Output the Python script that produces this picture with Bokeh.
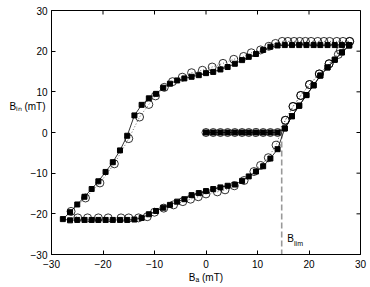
import math
from bokeh.plotting import figure
from bokeh.models import Range1d, Label, FixedTicker
from bokeh.embed import file_html
from bokeh.resources import INLINE

# ---------------- data ----------------
# solid squares: virgin curve, descending branch, ascending branch
sq_virgin_x = [0.0, 1.4, 2.8, 4.2, 5.6, 7.0, 8.3, 9.7, 11.1, 12.5, 13.9,
               15.3, 16.7, 18.1, 19.5, 20.9, 22.2, 23.6, 25.0, 26.4, 27.8]
sq_virgin_y = [0.0, 0.0, 0.0, 0.0, 0.0, 0.0, 0.0, 0.0, 0.0, 0.0, 0.0,
               1.0, 4.0, 6.6, 9.2, 11.6, 14.0, 16.0, 17.9, 19.7, 21.4]

sq_down_x = [27.8, 26.4, 25.0, 23.6, 22.2, 20.9, 19.5, 18.1, 16.7, 15.3,
             13.9, 12.5, 11.1, 9.7, 8.3, 7.0, 5.6, 4.2, 2.8, 1.4,
             0.0, -1.4, -2.8, -4.2, -5.6, -7.0, -8.3, -9.7, -11.1, -12.5,
             -13.9, -15.3, -16.7, -18.1, -19.5, -20.9, -22.2, -23.6, -25.0, -26.4,
             -27.8]
sq_down_y = [21.5, 21.5, 21.5, 21.5, 21.5, 21.5, 21.5, 21.5, 21.5, 21.5,
             21.4, 21.1, 20.3, 19.3, 18.6, 17.8, 16.9, 16.1, 15.5, 14.9,
             14.6, 14.1, 13.7, 13.3, 12.8, 12.0, 11.0, 9.5, 8.4, 6.8,
             4.2, -0.8, -4.4, -7.3, -9.7, -12.0, -13.9, -15.8, -17.7, -19.6,
             -21.3]

sq_up_x = [-26.4, -25.0, -23.6, -22.2, -20.9, -19.5, -18.1, -16.7, -15.3, -13.9,
           -12.5, -11.1, -9.7, -8.3, -7.0, -5.6, -4.2, -2.8, -1.4, 0.0,
           1.4, 2.8, 4.2, 5.6, 7.0, 8.3, 9.7, 11.1, 12.5, 13.9,
           15.3, 16.7, 18.1, 19.5, 20.9, 22.2, 23.6, 25.0, 26.4, 27.8]
sq_up_y = [-21.6, -21.5, -21.5, -21.5, -21.5, -21.5, -21.5, -21.5, -21.5, -21.4,
           -21.0, -20.1, -19.3, -18.5, -17.8, -17.0, -16.4, -15.4, -14.9, -14.4,
           -13.9, -13.5, -13.1, -12.8, -11.9, -10.8, -9.6, -8.3, -6.4, -4.1,
           1.0, 4.0, 6.6, 9.2, 11.6, 14.0, 16.0, 17.9, 19.7, 21.4]

# open circles: virgin curve, descending branch, ascending branch
ci_virgin_x = [0.0, 1.4, 2.8, 4.2, 5.6, 7.0, 8.3, 9.7, 11.1, 12.5, 13.9,
               15.4, 16.9, 18.4, 20.1, 22.0, 23.9, 25.7, 27.9]
ci_virgin_y = [0.0, 0.0, 0.0, 0.0, 0.0, 0.0, 0.0, 0.0, 0.0, 0.0, 0.0,
               3.0, 6.4, 9.1, 11.8, 14.4, 16.9, 19.2, 22.4]

ci_down_x = [26.6, 25.4, 24.0, 22.9, 21.7, 20.4, 19.3, 18.2, 17.1, 15.9, 14.8,
             13.5, 12.2, 10.6, 8.8, 7.3, 5.4, 3.3, 1.2, -0.7, -2.8,
             -4.6, -6.5, -8.1, -9.8, -11.1, -12.9, -15.0, -17.8, -20.6, -23.4,
             -26.2]
ci_down_y = [22.4, 22.4, 22.4, 22.4, 22.4, 22.4, 22.4, 22.4, 22.4, 22.4, 22.4,
             21.9, 21.2, 20.3, 19.6, 18.7, 18.0, 17.0, 16.1, 15.3, 14.7,
             13.6, 12.5, 11.1, 9.0, 6.9, 3.8, -1.5, -7.7, -12.4, -16.1,
             -19.4]

ci_up_x = [-24.9, -23.0, -20.9, -19.0, -16.5, -15.0, -13.1, -11.4, -10.0, -8.2,
           -6.3, -4.5, -3.0, -1.5, 0.0, 2.2, 3.7, 5.5, 7.4, 9.3,
           10.6, 12.1, 13.6, 15.4, 16.9, 18.4, 20.1, 22.0, 23.9, 26.1,
           27.9]
ci_up_y = [-21.0, -21.0, -21.0, -21.0, -21.0, -21.0, -21.0, -20.7, -19.6, -18.6,
           -17.8, -17.0, -16.4, -15.8, -15.1, -14.6, -14.1, -13.1, -11.8, -9.6,
           -8.1, -6.2, -3.1, 3.0, 6.4, 9.1, 11.8, 14.4, 16.9, 20.2,
           22.4]

b_lim = 14.7
b_lim_y = [0.0, -30.0]

x_lim = [-30, 30]
y_lim = [-30, 30]
x_ticks = [-30, -20, -10, 0, 10, 20, 30]
x_tick_labels = ["\u221230", "\u221220", "\u221210", "0", "10", "20", "30"]
y_ticks = [-30, -20, -10, 0, 10, 20, 30]
y_tick_labels = ["\u221230", "\u221220", "\u221210", "0", "10", "20", "30"]

x_title = "B\u2090 (mT)"
y_title = "B\u1d62\u2099 (mT)"

FONT = "Liberation Sans"

# ---------------- figure ----------------
p = figure(width=370, height=287,
           x_range=Range1d(*x_lim), y_range=Range1d(*y_lim),
           output_backend="svg", toolbar_location=None,
           min_border_left=51, min_border_right=10,
           min_border_top=10, min_border_bottom=33)
p.background_fill_color = "white"
p.border_fill_color = "white"
p.outline_line_color = "black"
p.outline_line_width = 1
p.xgrid.visible = False
p.ygrid.visible = False


def style_axis(ax, ticks, labels):
    ax.ticker = FixedTicker(ticks=ticks)
    ax.major_label_overrides = {t: l for t, l in zip(ticks, labels)}
    ax.major_tick_in = 4
    ax.major_tick_out = 0
    ax.minor_tick_line_color = None
    ax.major_tick_line_color = "black"
    ax.axis_line_color = "black"
    ax.major_label_text_font = FONT
    ax.major_label_text_color = "black"
    ax.major_label_text_font_size = "10px"
    ax.axis_label_text_font = FONT
    ax.axis_label_text_font_size = "10px"
    ax.axis_label_text_font_style = "normal"
    ax.axis_label_text_color = "black"


xa = p.xaxis[0]
style_axis(xa, x_ticks, x_tick_labels)
xa.major_label_standoff = 5
xa.axis_label = x_title
xa.axis_label_standoff = 1

ya = p.yaxis[0]
style_axis(ya, y_ticks, y_tick_labels)
ya.major_label_standoff = 4
# horizontal title, drawn over the tick-label column, a little above centre
ya.axis_label = y_title + "\n\u00a0" * 4
ya.axis_label_orientation = "horizontal"
ya.axis_label_standoff_mode = "axis"
ya.axis_label_standoff = 6

# inward ticks on the top and right edges (half of each dash is clipped away)
p.scatter(x_ticks, [y_lim[1]] * len(x_ticks), marker="dash", size=8,
          angle=math.pi / 2, line_color="black", line_width=1)
p.scatter([x_lim[1]] * len(y_ticks), y_ticks, marker="dash", size=8,
          line_color="black", line_width=1)

# dashed B_lim marker
p.line([b_lim, b_lim], b_lim_y, line_color="#999999", line_width=1.6,
       line_dash="6 3")

# series
sq_x = sq_virgin_x + sq_down_x + sq_up_x
sq_y = sq_virgin_y + sq_down_y + sq_up_y
ci_x = ci_virgin_x + ci_down_x + ci_up_x
ci_y = ci_virgin_y + ci_down_y + ci_up_y

p.line(ci_x, ci_y, line_color="#444444", line_width=0.8, line_dash="1 2")
p.line(sq_x, sq_y, line_color="black", line_width=0.8)
p.scatter(sq_x, sq_y, marker="square", size=5,
          fill_color="black", line_color="black")
p.scatter(ci_x, ci_y, marker="circle", size=8,
          fill_color=None, line_color="black", line_width=0.8)


# B_lim label with a manual subscript
def add_text(x, y, t, size):
    p.add_layout(Label(x=x, y=y, text=t, text_font=FONT,
                       text_font_size=size, text_color="black",
                       text_baseline="alphabetic", text_align="left"))


add_text(15.8, -26.0, "B", "10px")
add_text(17.1, -27.3, "lim", "7px")

open("out.html", "w").write(file_html(p, INLINE))
